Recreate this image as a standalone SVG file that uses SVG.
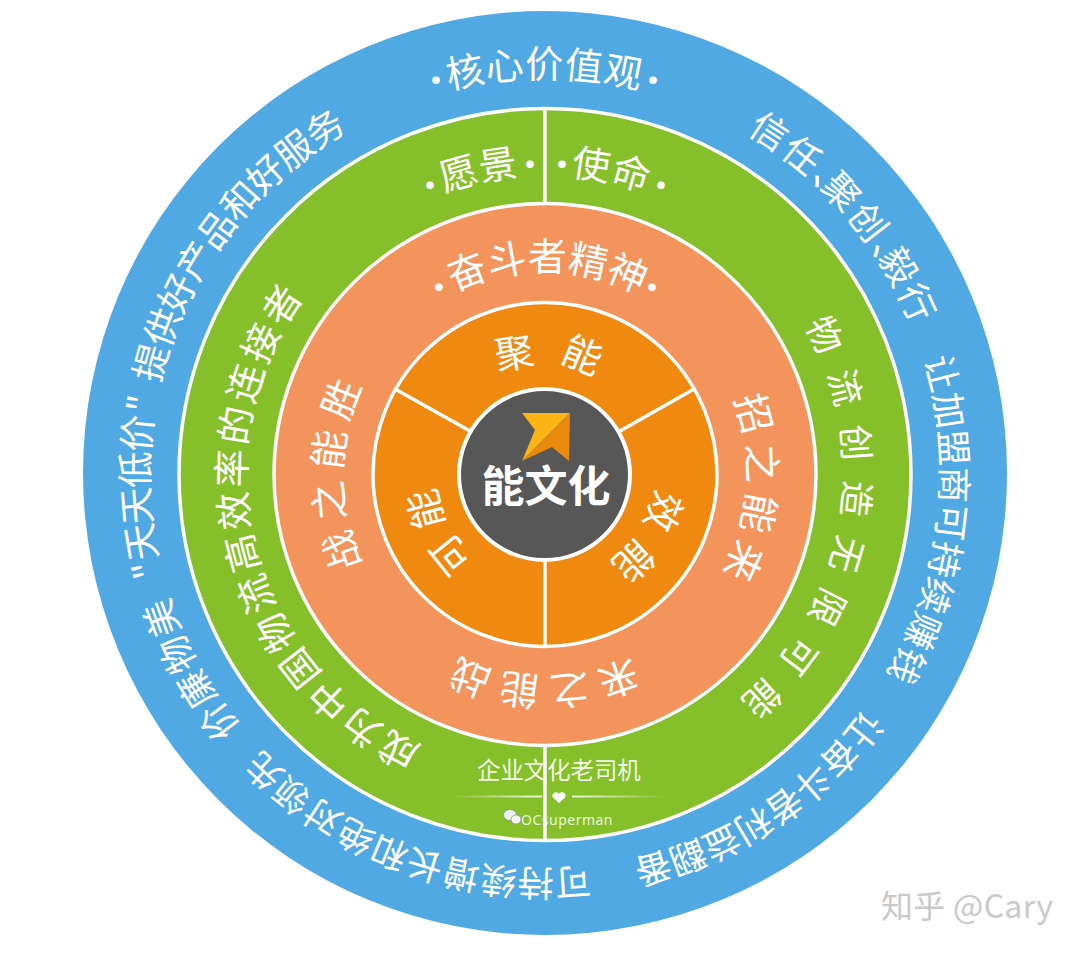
<svg xmlns="http://www.w3.org/2000/svg" width="1080" height="956" viewBox="0 0 1080 956">
<style>
text{font-family:"Noto Sans CJK SC","Noto Sans",sans-serif;fill:#fff}
.ring{stroke:#fff;stroke-width:3.5}
.sp{stroke:#fff;stroke-width:3.5;fill:none}
.dot{font-family:"Lato",sans-serif;font-weight:700;font-size:40px;text-anchor:middle}
.o{font-size:37px}.t{font-size:36px}.g{font-size:38px}.s{font-size:39px}
</style>
<defs>
<path id="p396" d="M545 78A396 396 0 0 1 545 870A396 396 0 0 1 545 78A396 396 0 0 1 545 870A396 396 0 0 1 545 78"/>
<path id="p299" d="M545 175A299 299 0 0 1 545 773A299 299 0 0 1 545 175A299 299 0 0 1 545 773A299 299 0 0 1 545 175"/>
<path id="p203" d="M545 271A203 203 0 0 1 545 677A203 203 0 0 1 545 271A203 203 0 0 1 545 677A203 203 0 0 1 545 271"/>
<path id="p110" d="M545 364A110 110 0 0 1 545 584A110 110 0 0 1 545 364A110 110 0 0 1 545 584A110 110 0 0 1 545 364"/>
<linearGradient id="fl"><stop offset="0" stop-color="#fff" stop-opacity="0"/><stop offset="1" stop-color="#fff" stop-opacity=".85"/></linearGradient>
<linearGradient id="fr"><stop offset="0" stop-color="#fff" stop-opacity=".85"/><stop offset="1" stop-color="#fff" stop-opacity="0"/></linearGradient>
</defs>
<rect width="1080" height="956" fill="#fff"/>
<g id="ring-values">
<circle cx="545" cy="473" r="462" fill="#50a9e2"/>
<text font-size="38"><textPath href="#p396" startOffset="2390.3" letter-spacing=".5">核心价值观</textPath></text>
<text class="dot" x="436" y="92">·</text><text class="dot" x="653" y="92">·</text>
<text class="o"><textPath href="#p396" startOffset="211" letter-spacing="2">信任、<tspan dx="-26">聚</tspan>创、<tspan dx="-26">毅</tspan>行</textPath></text>
<text class="t"><textPath href="#p396" startOffset="505.2" letter-spacing=".4">让加盟商可持续赚钱</textPath></text>
<text class="t"><textPath href="#p396" startOffset="872.2" letter-spacing="-.7">让奋斗者利益翻番</textPath></text>
<text class="t"><textPath href="#p396" startOffset="1198.4" letter-spacing=".3">可持续增长和绝对领先</textPath></text>
<text class="o"><textPath href="#p396" startOffset="1590"><tspan letter-spacing="1">价廉物美 </tspan><tspan dx="12">"</tspan><tspan letter-spacing="-1.8">天天低价</tspan><tspan dx="3">" </tspan><tspan dx="5.500" letter-spacing="-1">提供好产品和好服务</tspan></textPath></text>
</g>
<g id="ring-vision-mission">
<circle class="ring" cx="545" cy="474.5" r="366" fill="#85bf29"/>
<text class="g"><textPath href="#p299" startOffset="1775" letter-spacing=".4">愿景</textPath></text>
<text class="dot" x="430" y="197">·</text><text class="dot" x="530" y="176">·</text>
<text class="g"><textPath href="#p299" startOffset="25.5" letter-spacing="1">使命</textPath></text>
<text class="dot" x="562" y="176">·</text><text class="dot" x="661" y="197">·</text>
<text font-size="36"><textPath href="#p299" startOffset="312.9" letter-spacing="18">物流创造无限可能</textPath></text>
<text class="g"><textPath href="#p299" startOffset="1065.4" letter-spacing="3.2">成为中国物流高效率的连接者</textPath></text>
</g>
<g id="ring-spirit">
<circle class="ring" cx="545" cy="474.5" r="271" fill="#f2945c"/>
<text class="s"><textPath href="#p203" startOffset="1180.500" letter-spacing="-.5">奋斗者精神</textPath></text>
<text class="dot" x="439" y="299">·</text><text class="dot" x="652" y="299">·</text>
<text class="s"><textPath href="#p203" startOffset="241.6" letter-spacing="8.1">招之能来</textPath></text>
<text class="s"><textPath href="#p203" startOffset="547.4" letter-spacing="8.1">来之能战</textPath></text>
<text class="s"><textPath href="#p203" startOffset="862.7" letter-spacing="9.4">战之能胜</textPath></text>
</g>
<g id="ring-energy">
<circle class="ring" cx="545" cy="474.5" r="172" fill="#f0890f"/>
<text class="s"><textPath href="#p110" startOffset="642.1" letter-spacing="21.9">聚能</textPath></text>
<text class="s"><textPath href="#p110" startOffset="185.9" letter-spacing="12.8">效能</textPath></text>
<text class="s"><textPath href="#p110" startOffset="420.2" letter-spacing="7">可能</textPath></text>
</g>
<g id="connectors">
<line class="sp" x1="545" y1="107" x2="545" y2="203"/>
<line class="sp" x1="545" y1="746" x2="545" y2="841"/>
<line class="sp" x1="545" y1="560" x2="545" y2="646"/>
<line class="sp" x1="395" y1="389" x2="470" y2="431"/>
<line class="sp" x1="694" y1="389" x2="620" y2="431"/>
</g>
<g id="node-core">
<circle cx="544.5" cy="474.5" r="85.500" fill="#575757" stroke="#fff" stroke-width="4"/>
<path d="M522 413L570 413L522 461L535 430Z" fill="#fdb515"/>
<path d="M570 413L569 461L552 447L522 461Z" fill="#ea8a0c"/>
<text x="546" y="502" font-size="43" font-weight="700" text-anchor="middle">能文化</text>
</g>
<g id="watermark">
<text x="477" y="779" font-size="23.400" fill-opacity=".92">企业文化老司机</text>
<rect x="450" y="795.500" width="92" height="2" fill="url(#fl)"/>
<rect x="572" y="795.500" width="96" height="2" fill="url(#fr)"/>
<path d="M559 803L553 797.500C551 794 555 790 559 793.500C563 790 567 794 565 797.500Z" fill="#fff"/>
<ellipse cx="510" cy="815" rx="6.500" ry="5.500" fill="#eee" stroke="#888" stroke-width=".7"/>
<ellipse cx="516" cy="819.500" rx="5" ry="4.500" fill="#f5f5f5" stroke="#888" stroke-width=".7"/>
<text x="521" y="824.500" font-size="14" letter-spacing=".5" fill-opacity=".85" style="font-family:'Noto Sans',sans-serif">OCsuperman</text>
</g>
<text x="881" y="918" font-size="32" letter-spacing=".3" style="fill:#c9c9c9">知乎 @Cary</text>
</svg>
